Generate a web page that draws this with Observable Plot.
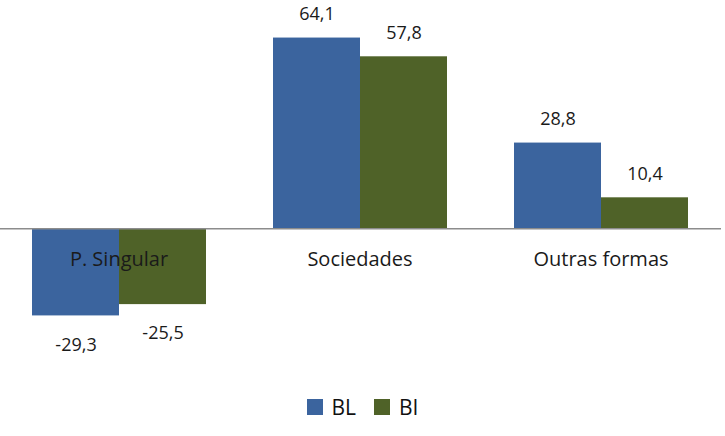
<!DOCTYPE html>
<html>
<head>
<meta charset="utf-8">
<script src="https://cdn.jsdelivr.net/npm/d3@7"></script>
<script src="https://cdn.jsdelivr.net/npm/@observablehq/plot@0.6"></script>
<style>
  body { margin: 0; background: #fff; font-family: "Open Sans", sans-serif; }
  #chart { width: 725px; }
  .legend { display: flex; justify-content: center; align-items: center; margin-top: 17px; height: 20px; font-size: 21px; color: #111; }
  .legend .item { display: flex; align-items: center; margin: 0 9px; }
  .legend .sw { width: 16px; height: 16px; margin-right: 9px; }
</style>
</head>
<body>
<div id="chart"></div>
<script>
const categories = ["P. Singular", "Sociedades", "Outras formas"];
const series = ["BL", "BI"];
const blValues = [-29.3, 64.1, 28.8];
const biValues = [-25.5, 57.8, 10.4];
const colors = ["#3b649e", "#4f6228"];

const data = categories.flatMap((c, i) => [
  {category: c, series: "BL", value: blValues[i]},
  {category: c, series: "BI", value: biValues[i]}
]);
const catRows = categories.map(c => ({category: c, zero: 0}));
const fmt = v => v.toFixed(1).replace(".", ",");

const chart = Plot.plot({
  width: 725,
  height: 380,
  marginLeft: -2,
  marginRight: 4,
  marginTop: 20,
  marginBottom: 3,
  style: {fontFamily: "Open Sans", background: "#fff", overflow: "hidden"},
  fx: {domain: categories, padding: 0, axis: null},
  x: {domain: series, paddingInner: 0, paddingOuter: 0.383, axis: null},
  y: {domain: [-50, 70], axis: null},
  color: {domain: series, range: colors},
  marks: [
    Plot.barY(data, {fx: "category", x: "series", y: "value", fill: "series"}),
    Plot.ruleY([0], {stroke: "#8c8c8c", strokeWidth: 1.5}),
    Plot.text(data.filter(d => d.value >= 0), {fx: "category", x: "series", y: "value", text: d => fmt(d.value), dy: -24, fontSize: 18, fill: "#1a1a1a"}),
    Plot.text(data.filter(d => d.value < 0), {fx: "category", x: "series", y: "value", text: d => fmt(d.value), dy: 29, fontSize: 18, fill: "#1a1a1a"}),
    Plot.text(catRows, {fx: "category", y: "zero", text: "category", dy: 31, fontSize: 20, fill: "#1a1a1a"})
  ]
});
document.getElementById("chart").appendChild(chart);

const legend = document.createElement("div");
legend.className = "legend";
series.forEach((s, i) => {
  const item = document.createElement("div");
  item.className = "item";
  const sw = document.createElement("span");
  sw.className = "sw";
  sw.style.background = colors[i];
  const label = document.createElement("span");
  label.textContent = s;
  item.appendChild(sw);
  item.appendChild(label);
  legend.appendChild(item);
});
document.body.appendChild(legend);
</script>
</body>
</html>
